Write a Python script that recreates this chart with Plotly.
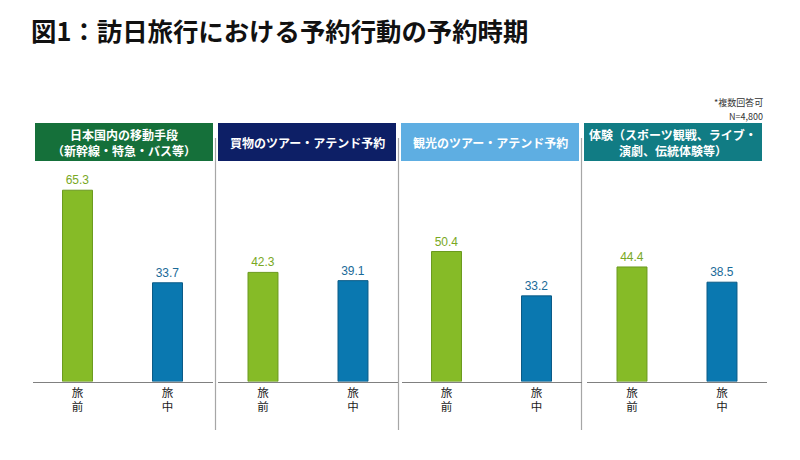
import plotly.graph_objects as go

# ---- data ----
categories = [
    "日本国内の移動手段<br>（新幹線・特急・バス等）",
    "買物のツアー・アテンド予約",
    "観光のツアー・アテンド予約",
    "体験（スポーツ観戦、ライブ・<br>演劇、伝統体験等）",
]
timing_labels = ["旅<br>前", "旅<br>中"]
before_trip = [65.3, 42.3, 50.4, 44.4]
during_trip = [33.7, 39.1, 33.2, 38.5]
y_max = [72.2, 82.0, 82.0, 82.0]

title_text = "図1：訪日旅行における予約行動の予約時期"
note_lines = ["*複数回答可", "N=4,800"]

# ---- style ----
FONT = "Noto Sans CJK JP"
W, H = 800, 460
bar_fill = ["#86bb27", "#0a78b0"]
bar_edge = ["#6b9a1e", "#0a5a86"]
label_col = ["#79a824", "#1a6a98"]
header_colors = ["#15703a", "#0d1f66", "#5eaee2", "#117c84"]
panel_px = [(32.5, 212.5), (218, 398), (401.5, 581.5), (587, 767)]
box_px = [(35, 213), (218, 396), (401, 579), (584, 762)]
sep_px = [215.5, 398.5, 581.5]

def px_x(x):
    return x / W

def px_y(y):
    return 1 - y / H

fig = go.Figure()
layout = dict(
    width=W, height=H,
    margin=dict(l=0, r=0, t=0, b=0),
    paper_bgcolor="white", plot_bgcolor="white",
    showlegend=False,
    font=dict(family=FONT, color="#222222"),
    bargap=0.667,
)

shapes = []
annotations = []
y_dom = [px_y(381.5), px_y(170)]

for i in range(4):
    xa = "x" if i == 0 else f"x{i+1}"
    ya = "y" if i == 0 else f"y{i+1}"
    fig.add_trace(go.Bar(
        x=timing_labels,
        y=[before_trip[i], during_trip[i]],
        xaxis=xa, yaxis=ya,
        marker=dict(color=bar_fill, line=dict(color=bar_edge, width=1)),
        text=[f"{before_trip[i]:.1f}", f"{during_trip[i]:.1f}"],
        textposition="outside",
        textfont=dict(size=12, color=label_col, family="Liberation Sans"),
        cliponaxis=False,
        hoverinfo="skip",
    ))
    sfx = "" if i == 0 else str(i + 1)
    layout["xaxis" + sfx] = dict(
        domain=[px_x(panel_px[i][0]), px_x(panel_px[i][1])],
        anchor=ya,
        showline=True, linecolor="#808080", linewidth=1.2,
        ticks="", showgrid=False, zeroline=False,
        tickfont=dict(size=11.5, color="#1a1a1a", family=FONT),
        fixedrange=True,
    )
    layout["yaxis" + sfx] = dict(
        domain=y_dom, anchor=xa,
        range=[0, y_max[i]],
        visible=False, showgrid=False, zeroline=False,
        fixedrange=True,
    )
    # header box
    x0, x1 = box_px[i]
    shapes.append(dict(
        type="rect", xref="paper", yref="paper",
        x0=px_x(x0), x1=px_x(x1), y0=px_y(161), y1=px_y(123),
        fillcolor=header_colors[i], line=dict(width=0), layer="above",
    ))
    annotations.append(dict(
        xref="paper", yref="paper",
        x=px_x((x0 + x1) / 2), y=px_y(142),
        text=f"<b>{categories[i]}</b>", showarrow=False,
        font=dict(size=12, color="white", family=FONT),
        xanchor="center", yanchor="middle", align="center",
    ))

for sx in sep_px:
    shapes.append(dict(
        type="line", xref="paper", yref="paper",
        x0=px_x(sx), x1=px_x(sx), y0=px_y(430), y1=px_y(138),
        line=dict(color="#a6a6a6", width=1.2), layer="below",
    ))

annotations.append(dict(
    xref="paper", yref="paper", x=px_x(29), y=px_y(30),
    text=f"<b>{title_text}</b>", showarrow=False,
    font=dict(size=25.4, color="#111111", family=FONT),
    xanchor="left", yanchor="middle",
))
annotations.append(dict(
    xref="paper", yref="paper", x=px_x(765), y=px_y(102),
    text=note_lines[0], showarrow=False,
    font=dict(size=9, color="#333333", family=FONT),
    xanchor="right", yanchor="middle",
))
annotations.append(dict(
    xref="paper", yref="paper", x=px_x(765), y=px_y(117),
    text=note_lines[1], showarrow=False,
    font=dict(size=9, color="#333333", family=FONT),
    xanchor="right", yanchor="middle",
))

layout["shapes"] = shapes
layout["annotations"] = annotations
fig.update_layout(**layout)
fig.write_html(
    "out.html",
    config={"displayModeBar": False, "staticPlot": True},
    post_script="document.body.style.margin='0';document.body.style.padding='0';",
)
